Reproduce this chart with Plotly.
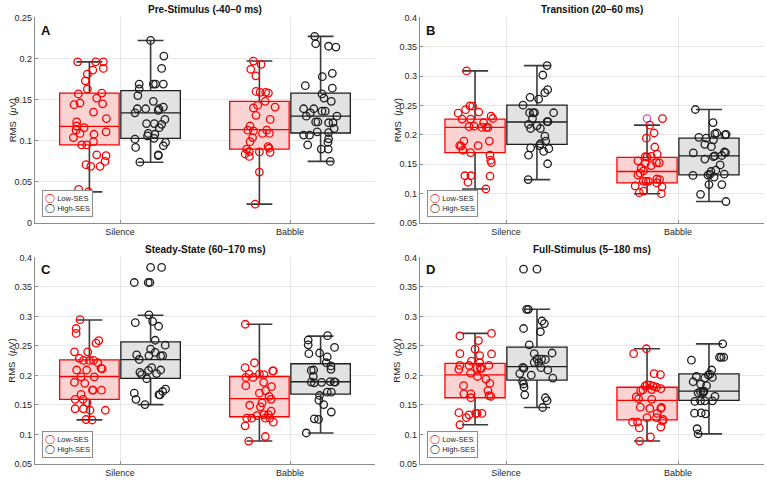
import plotly.graph_objects as go

# ---------------- data ----------------
categories = ["Silence", "Babble"]
panel_titles = ["Pre-Stimulus (-40–0 ms)", "Transition (20–60 ms)",
                "Steady-State (60–170 ms)", "Full-Stimulus (5–180 ms)"]
panel_letters = ["A", "B", "C", "D"]
group_names = ["Low-SES", "High-SES"]

ytick_A = [0, 0.05, 0.1, 0.15, 0.2, 0.25]
ytick_A_text = ["0", "0.05", "0.1", "0.15", "0.2", "0.25"]
ytick_BCD = [0.05, 0.1, 0.15, 0.2, 0.25, 0.3, 0.35, 0.4]
ytick_BCD_text = ["0.05", "0.1", "0.15", "0.2", "0.25", "0.3", "0.35", "0.4"]

# box statistics: [lower whisker, q1, median, q3, upper whisker]
A_sil_low_stats = [0.038, 0.095, 0.1175, 0.158, 0.196]
A_sil_high_stats = [0.074, 0.103, 0.134, 0.161, 0.222]
A_bab_low_stats = [0.023, 0.090, 0.1135, 0.148, 0.197]
A_bab_high_stats = [0.075, 0.1095, 0.130, 0.158, 0.227]

B_sil_low_stats = [0.108, 0.170, 0.213, 0.227, 0.309]
B_sil_high_stats = [0.124, 0.184, 0.222, 0.2506, 0.318]
B_bab_low_stats = [0.100, 0.1183, 0.1378, 0.1617, 0.2167]
B_bab_high_stats = [0.0867, 0.132, 0.1644, 0.1945, 0.2433]

C_sil_low_stats = [0.1247, 0.1595, 0.1982, 0.2264, 0.294]
C_sil_high_stats = [0.1506, 0.1949, 0.2269, 0.2568, 0.302]
C_bab_low_stats = [0.0888, 0.130, 0.1606, 0.1982, 0.2867]
C_bab_high_stats = [0.1025, 0.1684, 0.1893, 0.2198, 0.2665]

D_sil_low_stats = [0.1164, 0.1622, 0.2009, 0.2203, 0.2712]
D_sil_high_stats = [0.1457, 0.1921, 0.2148, 0.248, 0.312]
D_bab_low_stats = [0.0888, 0.1246, 0.1578, 0.180, 0.2452]
D_bab_high_stats = [0.101, 0.1578, 0.1733, 0.2026, 0.2535]

# individual participants (values) and their horizontal jitter (category units)
A_sil_low_v = [0.196, 0.196, 0.196, 0.186, 0.188, 0.181, 0.173, 0.163, 0.157, 0.158, 0.152, 0.144, 0.146, 0.145, 0.135, 0.127, 0.123, 0.118, 0.116, 0.113, 0.111, 0.109, 0.108, 0.104, 0.099, 0.095, 0.095, 0.083, 0.082, 0.075, 0.071, 0.069, 0.069, 0.041, 0.038]
A_sil_low_j = [-0.069, 0.037, 0.082, 0.020, 0.082, -0.012, -0.024, -0.012, -0.065, 0.073, 0.043, -0.090, -0.055, 0.078, 0.024, 0.100, -0.075, -0.075, -0.031, -0.078, 0.098, -0.055, 0.027, -0.094, 0.024, -0.045, -0.016, 0.043, 0.098, 0.092, -0.020, 0.008, 0.063, -0.063, -0.006]
A_sil_high_v = [0.222, 0.203, 0.188, 0.169, 0.169, 0.169, 0.169, 0.163, 0.155, 0.148, 0.139, 0.139, 0.139, 0.141, 0.137, 0.134, 0.126, 0.121, 0.121, 0.120, 0.116, 0.109, 0.108, 0.106, 0.103, 0.102, 0.098, 0.094, 0.092, 0.083, 0.082, 0.074]
A_sil_high_j = [0.0, 0.078, 0.065, -0.067, 0.016, 0.029, 0.075, -0.067, -0.075, 0.016, -0.078, -0.029, 0.049, 0.075, 0.045, -0.092, 0.084, -0.024, 0.022, 0.065, 0.051, -0.014, 0.025, -0.018, 0.020, -0.092, 0.088, 0.075, -0.088, 0.045, 0.045, -0.063]
A_bab_low_v = [0.197, 0.193, 0.187, 0.179, 0.160, 0.159, 0.159, 0.158, 0.148, 0.140, 0.141, 0.143, 0.131, 0.126, 0.118, 0.113, 0.112, 0.113, 0.109, 0.109, 0.104, 0.099, 0.093, 0.091, 0.090, 0.087, 0.084, 0.0865, 0.086, 0.081, 0.062, 0.023]
A_bab_low_j = [-0.035, 0.010, -0.051, -0.021, -0.020, 0.004, 0.037, 0.053, 0.034, -0.035, 0.092, -0.010, -0.020, 0.063, -0.055, -0.068, -0.035, 0.043, 0.018, 0.059, -0.040, -0.055, 0.051, 0.057, -0.075, -0.059, -0.084, 0.0, 0.063, -0.059, 0.0, -0.025]
A_bab_high_v = [0.227, 0.218, 0.215, 0.214, 0.182, 0.178, 0.167, 0.164, 0.157, 0.152, 0.148, 0.139, 0.139, 0.136, 0.136, 0.134, 0.130, 0.130, 0.123, 0.123, 0.122, 0.122, 0.115, 0.111, 0.110, 0.107, 0.107, 0.1025, 0.098, 0.095, 0.090, 0.090, 0.075]
A_bab_high_j = [-0.035, -0.029, 0.047, 0.090, 0.069, 0.010, -0.090, 0.069, 0.008, 0.020, 0.063, -0.100, -0.040, 0.008, 0.027, -0.060, -0.084, 0.096, -0.029, -0.016, 0.047, 0.073, 0.080, -0.020, 0.047, -0.100, -0.065, 0.047, 0.043, -0.076, 0.004, 0.045, 0.057]

B_sil_low_v = [0.309, 0.2495, 0.249, 0.243, 0.237, 0.239, 0.232, 0.228, 0.227, 0.227, 0.221, 0.214, 0.215, 0.2128, 0.2128, 0.213, 0.1895, 0.1895, 0.182, 0.181, 0.182, 0.174, 0.170, 0.1656, 0.157, 0.153, 0.1306, 0.1306, 0.130, 0.1195, 0.108]
B_sil_low_j = [-0.049, -0.030, -0.014, -0.055, -0.098, 0.022, 0.093, 0.103, -0.075, -0.026, 0.050, -0.035, -0.006, 0.040, 0.065, 0.075, -0.065, 0.083, -0.089, -0.081, 0.018, -0.071, -0.026, 0.087, 0.091, 0.095, -0.059, -0.024, 0.087, -0.041, 0.063]
B_sil_high_v = [0.318, 0.302, 0.277, 0.272, 0.264, 0.261, 0.2506, 0.2378, 0.2375, 0.238, 0.2378, 0.228, 0.2228, 0.2225, 0.218, 0.2155, 0.211, 0.211, 0.198, 0.1895, 0.185, 0.182, 0.178, 0.1767, 0.172, 0.1656, 0.151, 0.124]
B_sil_high_j = [0.059, 0.034, 0.062, 0.046, -0.040, 0.010, -0.081, -0.043, -0.022, -0.014, 0.097, -0.026, 0.059, 0.064, -0.049, 0.0, -0.037, 0.020, 0.046, 0.051, 0.020, 0.014, -0.037, 0.069, 0.039, -0.049, 0.062, -0.051]
B_bab_low_v = [0.2278, 0.2278, 0.2167, 0.2033, 0.1945, 0.1795, 0.163, 0.1625, 0.1635, 0.1672, 0.156, 0.1517, 0.1478, 0.1528, 0.1525, 0.1433, 0.139, 0.135, 0.132, 0.125, 0.124, 0.121, 0.121, 0.121, 0.1183, 0.1133, 0.1117, 0.1044, 0.1017, 0.100]
B_bab_low_j = [0.0, 0.090, 0.016, 0.041, -0.004, 0.045, -0.010, 0.0, 0.024, 0.059, -0.053, -0.010, 0.024, 0.055, 0.071, -0.034, -0.020, -0.040, -0.053, 0.057, 0.073, -0.022, -0.006, 0.008, 0.057, -0.069, 0.087, -0.020, -0.045, 0.083]
B_bab_low_magenta_index = 0
B_bab_high_v = [0.2433, 0.2211, 0.202, 0.2033, 0.200, 0.201, 0.196, 0.1945, 0.1917, 0.184, 0.180, 0.1694, 0.170, 0.171, 0.1645, 0.163, 0.165, 0.159, 0.149, 0.140, 0.1378, 0.1311, 0.1317, 0.133, 0.1283, 0.1333, 0.1156, 0.1156, 0.099, 0.0867]
B_bab_high_j = [-0.079, 0.024, 0.034, 0.045, 0.093, 0.100, -0.059, -0.016, 0.026, -0.024, 0.014, -0.091, 0.096, 0.090, 0.034, 0.026, 0.075, -0.024, 0.065, 0.040, 0.012, -0.093, -0.006, 0.006, 0.030, 0.089, 0.0, 0.075, -0.049, 0.099]

C_sil_low_v = [0.2944, 0.2795, 0.2712, 0.259, 0.2546, 0.240, 0.240, 0.229, 0.2254, 0.2254, 0.2254, 0.2215, 0.212, 0.211, 0.2092, 0.2092, 0.1977, 0.1977, 0.1883, 0.1866, 0.175, 0.175, 0.175, 0.1678, 0.1595, 0.1595, 0.154, 0.1435, 0.1435, 0.141, 0.141, 0.1253, 0.1245]
C_sil_low_j = [-0.055, -0.078, -0.078, 0.055, 0.039, -0.088, -0.010, -0.059, -0.035, 0.0, 0.024, 0.049, 0.069, 0.075, -0.075, -0.016, -0.049, 0.029, -0.088, -0.027, 0.018, 0.022, 0.071, -0.049, -0.084, -0.037, -0.014, -0.084, -0.035, 0.004, 0.094, -0.020, 0.016]
C_sil_high_v = [0.3829, 0.3829, 0.3574, 0.3574, 0.3574, 0.3027, 0.2894, 0.2917, 0.2833, 0.2596, 0.2513, 0.2347, 0.2447, 0.2336, 0.239, 0.233, 0.2335, 0.227, 0.2092, 0.2132, 0.2087, 0.2053, 0.2015, 0.2032, 0.1944, 0.1767, 0.1728, 0.1674, 0.167, 0.170, 0.1595, 0.1506]
C_sil_high_j = [0.0, 0.065, -0.096, -0.014, -0.004, -0.010, -0.090, 0.012, 0.047, 0.027, 0.086, -0.082, 0.0, -0.010, 0.027, 0.059, 0.071, -0.067, 0.059, 0.006, -0.012, -0.063, -0.053, 0.035, -0.023, 0.088, 0.071, 0.049, 0.055, -0.096, -0.086, -0.033]
C_bab_low_v = [0.2867, 0.2215, 0.2132, 0.2021, 0.1966, 0.1966, 0.2021, 0.2015, 0.2076, 0.2076, 0.1827, 0.181, 0.1883, 0.170, 0.1744, 0.1644, 0.1595, 0.1495, 0.1535, 0.1468, 0.1396, 0.1275, 0.1275, 0.1319, 0.1336, 0.1336, 0.1275, 0.1275, 0.1208, 0.1147, 0.0965, 0.0888]
C_bab_low_j = [-0.083, -0.029, -0.084, -0.060, -0.080, -0.037, 0.0, 0.027, 0.078, 0.082, -0.080, 0.071, 0.025, 0.0, 0.037, 0.057, 0.069, -0.057, 0.016, 0.006, 0.069, -0.074, -0.045, -0.014, 0.025, 0.053, 0.035, 0.061, 0.082, -0.084, 0.035, -0.063]
C_bab_high_v = [0.2673, 0.260, 0.2518, 0.2474, 0.2369, 0.238, 0.2314, 0.2215, 0.216, 0.2092, 0.2085, 0.2104, 0.1982, 0.1888, 0.1875, 0.1883, 0.1896, 0.189, 0.1885, 0.1717, 0.1717, 0.166, 0.1506, 0.158, 0.138, 0.1265, 0.1255, 0.1025]
C_bab_high_j = [0.041, -0.073, -0.073, 0.082, -0.069, -0.006, 0.039, 0.033, 0.061, -0.041, -0.055, 0.061, -0.043, -0.055, -0.037, 0.006, 0.057, 0.080, 0.086, 0.039, 0.063, -0.006, 0.018, -0.010, 0.063, -0.037, -0.012, -0.084]

D_sil_low_v = [0.2668, 0.2712, 0.259, 0.2447, 0.2369, 0.2364, 0.2336, 0.2242, 0.2215, 0.217, 0.217, 0.217, 0.2104, 0.212, 0.212, 0.212, 0.2037, 0.1982, 0.1938, 0.1866, 0.1827, 0.1744, 0.1688, 0.1688, 0.1656, 0.1645, 0.1622, 0.1369, 0.1333, 0.1286, 0.1357, 0.1357, 0.1357, 0.1164]
D_sil_low_j = [-0.088, 0.096, 0.020, 0.0, -0.088, 0.096, 0.027, -0.021, 0.027, -0.088, -0.035, 0.080, -0.094, 0.012, 0.031, 0.037, -0.026, 0.014, 0.063, 0.086, -0.067, 0.075, -0.065, -0.024, 0.082, 0.092, -0.024, -0.094, -0.035, -0.051, 0.004, 0.012, 0.040, -0.088]
D_sil_high_v = [0.380, 0.380, 0.312, 0.312, 0.2922, 0.2878, 0.2795, 0.274, 0.2518, 0.2369, 0.238, 0.2278, 0.2275, 0.227, 0.2092, 0.222, 0.2215, 0.2132, 0.2137, 0.212, 0.2032, 0.2004, 0.1955, 0.190, 0.1855, 0.180, 0.1672, 0.1622, 0.1573, 0.1457]
D_sil_high_j = [-0.078, 0.0, -0.060, -0.050, 0.029, 0.043, -0.078, 0.020, -0.045, -0.016, 0.088, 0.0, 0.027, 0.049, 0.063, -0.016, 0.010, 0.023, -0.082, -0.076, -0.100, -0.033, 0.092, -0.084, -0.078, -0.075, -0.071, 0.049, 0.059, 0.033]
D_bab_low_v = [0.2452, 0.2369, 0.2029, 0.2015, 0.184, 0.1835, 0.182, 0.182, 0.180, 0.1775, 0.1744, 0.1755, 0.176, 0.1635, 0.1605, 0.1595, 0.1462, 0.144, 0.1457, 0.144, 0.1357, 0.1253, 0.1225, 0.1286, 0.1286, 0.1208, 0.1208, 0.1125, 0.111, 0.0959, 0.0888]
D_bab_low_j = [-0.004, -0.078, 0.041, 0.078, 0.0, 0.016, 0.035, -0.012, 0.055, 0.080, -0.037, -0.024, 0.027, -0.063, -0.049, 0.027, -0.039, 0.016, 0.084, 0.080, 0.059, 0.094, 0.090, 0.0, 0.055, -0.084, -0.055, 0.080, -0.045, 0.020, -0.043]
D_bab_high_v = [0.2535, 0.2308, 0.2308, 0.2308, 0.2258, 0.2092, 0.202, 0.201, 0.1982, 0.1966, 0.1955, 0.1893, 0.1855, 0.1827, 0.1705, 0.1725, 0.1725, 0.1735, 0.171, 0.1644, 0.156, 0.157, 0.157, 0.157, 0.136, 0.1365, 0.135, 0.1097, 0.101]
D_bab_high_j = [0.080, 0.061, 0.071, 0.086, -0.102, 0.016, 0.006, -0.004, -0.073, 0.020, -0.024, -0.092, -0.049, -0.014, -0.063, -0.049, -0.035, -0.029, -0.033, 0.035, -0.082, -0.049, -0.024, 0.020, -0.084, -0.045, -0.020, -0.069, -0.063]

# ---------------- assemble ----------------
panels = [
    dict(groups=[(A_sil_low_v, A_sil_low_j, A_sil_low_stats), (A_sil_high_v, A_sil_high_j, A_sil_high_stats),
                 (A_bab_low_v, A_bab_low_j, A_bab_low_stats), (A_bab_high_v, A_bab_high_j, A_bab_high_stats)],
         yr=[0, 0.25], tv=ytick_A, tt=ytick_A_text),
    dict(groups=[(B_sil_low_v, B_sil_low_j, B_sil_low_stats), (B_sil_high_v, B_sil_high_j, B_sil_high_stats),
                 (B_bab_low_v, B_bab_low_j, B_bab_low_stats), (B_bab_high_v, B_bab_high_j, B_bab_high_stats)],
         yr=[0.05, 0.4], tv=ytick_BCD, tt=ytick_BCD_text),
    dict(groups=[(C_sil_low_v, C_sil_low_j, C_sil_low_stats), (C_sil_high_v, C_sil_high_j, C_sil_high_stats),
                 (C_bab_low_v, C_bab_low_j, C_bab_low_stats), (C_bab_high_v, C_bab_high_j, C_bab_high_stats)],
         yr=[0.05, 0.4], tv=ytick_BCD, tt=ytick_BCD_text),
    dict(groups=[(D_sil_low_v, D_sil_low_j, D_sil_low_stats), (D_sil_high_v, D_sil_high_j, D_sil_high_stats),
                 (D_bab_low_v, D_bab_low_j, D_bab_low_stats), (D_bab_high_v, D_bab_high_j, D_bab_high_stats)],
         yr=[0.05, 0.4], tv=ytick_BCD, tt=ytick_BCD_text),
]

W, H = 767, 482
x_domains = [[35 / W, 375 / W], [420 / W, 764 / W], [35 / W, 375 / W], [420 / W, 764 / W]]
y_domains = [[1 - 222.7 / H, 1 - 12.7 / H], [1 - 222.7 / H, 1 - 12.7 / H],
             [1 - 468.7 / H, 1 - 257.7 / H], [1 - 468.7 / H, 1 - 257.7 / H]]
ytitle_x = [12 / W, 397 / W, 12 / W, 397 / W]

FONT = "Liberation Sans, Arial, Helvetica, sans-serif"
RED = "#ff0000"
DARK = "#1e1e1e"
WHISK = "#3a3a3a"
styles = [  # low, high
    dict(fill="#fbd3d3", line=RED, marker=RED),
    dict(fill="#e2e2e2", line=DARK, marker=DARK),
]
cat_pos = [1, 2]
offsets = [-0.18, 0.18]
BOX_W = 0.35
CAP = 0.076

fig = go.Figure()
annotations = []
for pi, P in enumerate(panels):
    sfx = "" if pi == 0 else str(pi + 1)
    xa, ya = "x" + sfx, "y" + sfx
    for gi, (vals, jit, st) in enumerate(P["groups"]):
        ci, si = gi // 2, gi % 2
        c = cat_pos[ci] + offsets[si]
        sty = styles[si]
        lo, q1, med, q3, hi = st
        fig.add_trace(go.Box(
            x=[c], q1=[q1], median=[med], q3=[q3], lowerfence=[q1], upperfence=[q3],
            width=BOX_W, fillcolor=sty["fill"], line=dict(color=sty["line"], width=1.3),
            whiskerwidth=0, boxpoints=False, xaxis=xa, yaxis=ya, showlegend=False, hoverinfo="skip"))
        fig.add_trace(go.Scatter(
            x=[c, c, None, c, c, None, c - CAP, c + CAP, None, c - CAP, c + CAP],
            y=[lo, q1, None, q3, hi, None, lo, lo, None, hi, hi],
            mode="lines", line=dict(color=WHISK, width=1.6), xaxis=xa, yaxis=ya,
            showlegend=False, hoverinfo="skip"))
        n = min(len(vals), len(jit))
        colors = [sty["marker"]] * n
        if pi == 1 and gi == 2:
            colors[B_bab_low_magenta_index] = "#d64fd6"
        fig.add_trace(go.Scatter(
            x=[c + jit[k] for k in range(n)], y=vals[:n], mode="markers",
            marker=dict(symbol="circle-open", size=7.5, color=colors, line=dict(width=1.3)),
            xaxis=xa, yaxis=ya, showlegend=False, hoverinfo="skip", name=group_names[si]))

    axis_common = dict(showgrid=True, gridcolor="#e6e6e6", gridwidth=1, showline=True,
                       linecolor="#8c8c8c", linewidth=1.4, zeroline=False, ticks="inside",
                       ticklen=3, tickcolor="#8c8c8c", tickfont=dict(family=FONT, size=9, color="#262626"))
    fig.layout["xaxis" + sfx] = dict(domain=x_domains[pi], range=[0.5, 2.5], tickvals=cat_pos,
                                     ticktext=categories, anchor=ya, **axis_common)
    fig.layout["yaxis" + sfx] = dict(domain=y_domains[pi], range=P["yr"], tickvals=P["tv"],
                                     ticktext=P["tt"], anchor=xa, **axis_common)

    annotations.append(dict(text="<b>" + panel_titles[pi] + "</b>", xref=xa + " domain", yref=ya + " domain",
                            x=0.5, y=1.0, xanchor="center", yanchor="bottom", showarrow=False,
                            font=dict(family=FONT, size=10, color="#111")))
    annotations.append(dict(text="<b>" + panel_letters[pi] + "</b>", xref=xa + " domain", yref=ya + " domain",
                            x=0.012, y=0.985, xanchor="left", yanchor="top", showarrow=False,
                            font=dict(family=FONT, size=13, color="#111")))
    annotations.append(dict(text="RMS  (<i>μ</i>V)", xref="paper", yref="paper",
                            x=ytitle_x[pi], y=sum(y_domains[pi]) / 2, textangle=-90,
                            xanchor="center", yanchor="middle", showarrow=False,
                            font=dict(family=FONT, size=9.5, color="#262626")))
    annotations.append(dict(
        text="<span style='color:#ff0000;font-size:9px;font-family:DejaVu Sans'>◯</span> " + group_names[0] + "<br>"
             "<span style='color:#1e1e1e;font-size:9px;font-family:DejaVu Sans'>◯</span> " + group_names[1],
        xref=xa + " domain", yref=ya + " domain", x=0.02, y=0.03, xanchor="left", yanchor="bottom",
        align="left", showarrow=False, bgcolor="#ffffff", bordercolor="#8c8c8c", borderwidth=1,
        borderpad=2, font=dict(family=FONT, size=7.5, color="#262626")))

fig.update_layout(width=W, height=H, margin=dict(l=0, r=0, t=0, b=0),
                  paper_bgcolor="white", plot_bgcolor="white", boxmode="overlay",
                  annotations=annotations, showlegend=False)
fig.write_html("out.html")
